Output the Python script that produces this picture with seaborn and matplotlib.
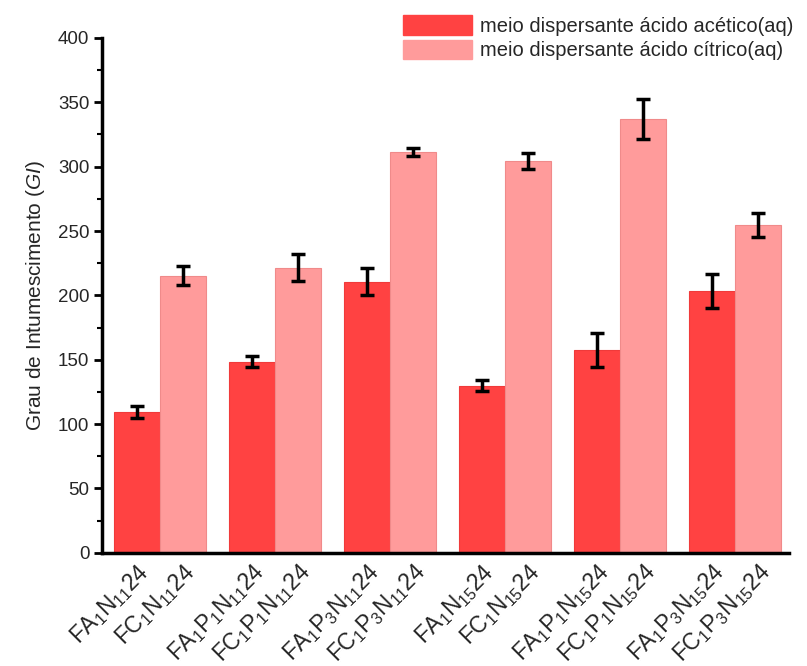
import matplotlib
matplotlib.use("Agg")
import matplotlib.pyplot as plt
from matplotlib.ticker import MultipleLocator
from matplotlib.patches import Patch
from matplotlib.container import BarContainer
import seaborn as sns
import pandas as pd
import numpy as np

groups = ["G1", "G2", "G3", "G4", "G5", "G6"]
series = ["meio dispersante ácido acético(aq)", "meio dispersante ácido cítrico(aq)"]
acetico = [109.7, 148.6, 210.7, 129.9, 157.7, 203.5]
acetico_err = [4.7, 4.3, 10.5, 4.5, 13.2, 13.2]
citrico = [215.1, 221.4, 311.2, 304.2, 337.1, 254.5]
citrico_err = [7.4, 10.6, 3.3, 6.3, 15.5, 9.2]
labels_a = ["FA$_1$N$_{11}$24", "FA$_1$P$_1$N$_{11}$24", "FA$_1$P$_3$N$_{11}$24",
            "FA$_1$N$_{15}$24", "FA$_1$P$_1$N$_{15}$24", "FA$_1$P$_3$N$_{15}$24"]
labels_c = ["FC$_1$N$_{11}$24", "FC$_1$P$_1$N$_{11}$24", "FC$_1$P$_3$N$_{11}$24",
            "FC$_1$N$_{15}$24", "FC$_1$P$_1$N$_{15}$24", "FC$_1$P$_3$N$_{15}$24"]

df = pd.DataFrame({
    "grupo": groups * 2,
    "meio": [series[0]] * 6 + [series[1]] * 6,
    "GI": acetico + citrico,
})

sns.set_theme(style="white")
plt.rcParams["font.family"] = ["Liberation Sans", "DejaVu Sans"]
plt.rcParams["mathtext.fontset"] = "custom"
plt.rcParams["mathtext.rm"] = "Liberation Sans"
plt.rcParams["mathtext.it"] = "Liberation Sans:italic"
plt.rcParams["mathtext.default"] = "regular"

colors = ["#FF4242", "#FF9B9B"]
fig = plt.figure(figsize=(8.07, 6.66), dpi=100)
ax = fig.add_axes([0.127, 0.170, 0.851, 0.773])

sns.barplot(data=df, x="grupo", y="GI", hue="meio", hue_order=series,
            palette=colors, width=0.8, errorbar=None, ax=ax, legend=False,
            saturation=1)

edges = ["#F03A3A", "#F08A8A"]
errs = [acetico_err, citrico_err]
vals = [acetico, citrico]
bar_conts = [c for c in ax.containers if isinstance(c, BarContainer)]
centers = []
for k, cont in enumerate(bar_conts):
    for j, p in enumerate(cont.patches):
        p.set_edgecolor(edges[k])
        p.set_linewidth(0.8)
        cx = p.get_x() + p.get_width() / 2
        centers.append((cx, labels_a[j] if k == 0 else labels_c[j]))
        ax.errorbar(cx, vals[k][j], yerr=errs[k][j], color="black",
                    capsize=5, capthick=2.5, elinewidth=2.5, fmt="none", zorder=5)

centers.sort(key=lambda t: t[0])
ax.set_xticks([c[0] for c in centers])
ax.set_xticklabels([c[1] for c in centers], rotation=45, ha="right",
                   rotation_mode="anchor", fontsize=16.5)
ax.tick_params(axis="x", length=0, pad=5)

ax.set_ylim(0, 400)
ax.set_xlim(-0.5, 5.47)
ax.yaxis.set_major_locator(MultipleLocator(50))
ax.yaxis.set_minor_locator(MultipleLocator(25))
ax.tick_params(axis="y", which="major", direction="out", length=6, width=2,
               labelsize=13.5, left=True, color="black")
ax.tick_params(axis="y", which="minor", direction="out", length=3.5, width=1.5,
               left=True, color="black")

ax.set_xlabel("")
ax.set_ylabel("Grau de Intumescimento ($\\mathit{GI}$)", fontsize=15, labelpad=8)

for s in ["top", "right"]:
    ax.spines[s].set_visible(False)
for s in ["left", "bottom"]:
    ax.spines[s].set_linewidth(2.5)
    ax.spines[s].set_color("black")

handles = [Patch(facecolor=colors[0], edgecolor=colors[0]),
           Patch(facecolor=colors[1], edgecolor=colors[1])]
fig.legend(handles, series, loc="upper right", bbox_to_anchor=(0.998, 0.995),
           frameon=False, fontsize=14.5, handlelength=3.4, handleheight=1.1,
           handletextpad=0.4, labelspacing=0.2, borderaxespad=0.2)

fig.savefig("out.png", dpi=100)
